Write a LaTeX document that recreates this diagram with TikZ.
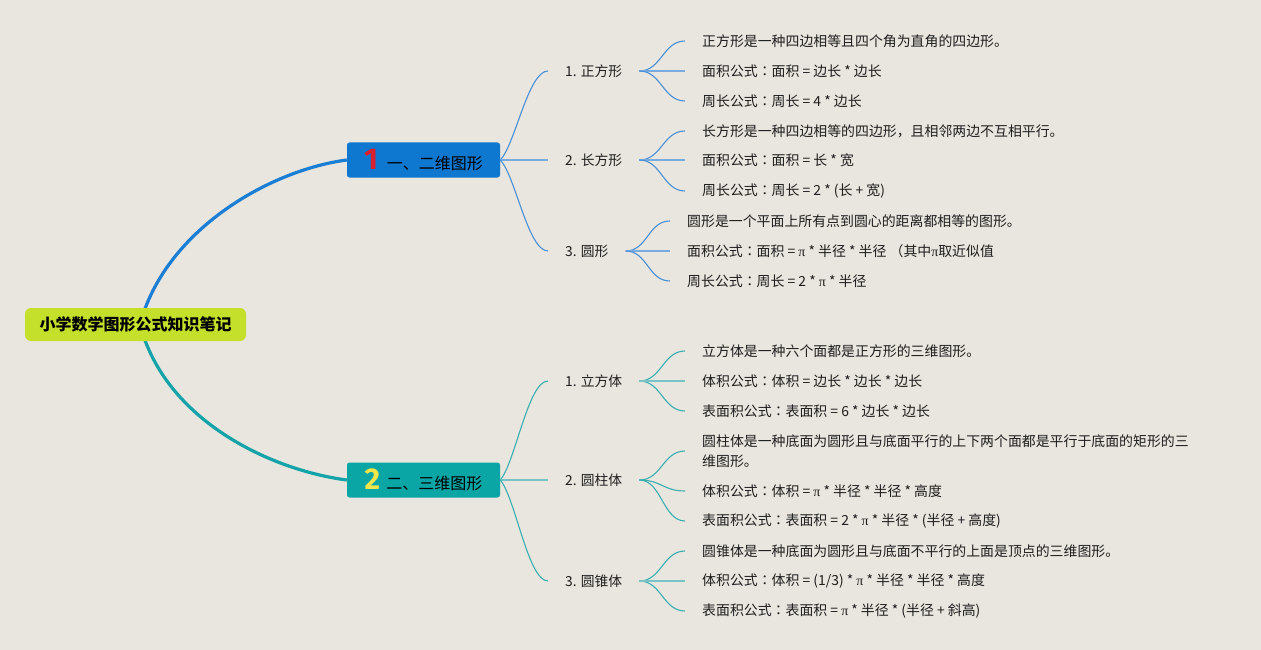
\documentclass[tikz,border=0pt]{standalone}
\usepackage{fontspec}
\setmainfont{Noto Sans CJK SC}
\newfontfamily\pif{Liberation Serif}
\newfontfamily\numfont{Fira Sans}
\newfontfamily\tcfont{Noto Sans CJK TC}
\usetikzlibrary{backgrounds}
\pgfdeclarelayer{paper}
\pgfsetlayers{paper,background,main}
\definecolor{bg}{HTML}{E8E6DF}
\definecolor{rootc}{HTML}{C4E02A}
\definecolor{bonec}{HTML}{0E78D0}
\definecolor{btwoc}{HTML}{0AA5A5}
\definecolor{curveone}{HTML}{1A7ED4}
\definecolor{curvetwo}{HTML}{14A3A8}
\definecolor{thinone}{HTML}{4A8FD6}
\definecolor{midone}{HTML}{78ACDF}
\definecolor{thintwo}{HTML}{3AAFB0}
\definecolor{midtwo}{HTML}{78C4C4}
\definecolor{numred}{HTML}{D8202E}
\definecolor{numyel}{HTML}{F2E64A}
\definecolor{txt}{HTML}{1E1E1E}
\newcommand{\pisym}{{\pif π}}
\newcommand{\fcolon}{{\tcfont ：}}
\tikzset{
  rootbox/.style={fill=rootc, rounded corners=6pt, minimum width=221pt, minimum height=33pt, inner sep=0pt, font=\fontsize{16}{16}\selectfont\bfseries, text=black},
  branchbox/.style={rounded corners=2.5pt, minimum width=153pt, minimum height=35pt, inner sep=0pt, font=\fontsize{16}{16}\selectfont, text=black},
  subnode/.style={anchor=west, inner xsep=17pt, inner ysep=2pt, font=\fontsize{13.8}{13.8}\selectfont, text=txt},
  leaf/.style={anchor=west, inner xsep=17pt, inner ysep=2pt, font=\fontsize{13.9}{20.5}\selectfont, text=txt, align=left},
  maincurve/.style={line width=3.2pt},
  thinc/.style={line width=1.1pt},
  midc/.style={line width=2pt},
}
\begin{document}
\begin{tikzpicture}[x=1pt,y=-1pt]
\begin{pgfonlayer}{paper}
\fill[bg] (0,0) rectangle (1261,650);
\end{pgfonlayer}
\useasboundingbox (0,0) rectangle (1261,650);

% root and branches
\node[rootbox] (root) at (135.5,324.5) {小学数学图形公式知识笔记};
\node[branchbox, fill=bonec] (b1) at (423.5,160) {{\numfont\bfseries\fontsize{30}{30}\selectfont\color{numred}1}\hspace{9pt}一、二维图形};
\node[branchbox, fill=btwoc] (b2) at (423.5,480) {{\numfont\bfseries\fontsize{30}{30}\selectfont\color{numyel}2}\hspace{6pt}二、三维图形};

% branch 1 subs
\node[subnode] (s11) at (548,71) {1. 正方形};
\node[subnode] (s12) at (548,160) {2. 长方形};
\node[subnode] (s13) at (548,251) {3. 圆形};
% branch 2 subs
\node[subnode] (s21) at (548,381) {1. 立方体};
\node[subnode] (s22) at (548,480) {2. 圆柱体};
\node[subnode] (s23) at (548,581) {3. 圆锥体};

% leaves 1.1
\node[leaf] (l111) at (685,41) {正方形是一种四边相等且四个角为直角的四边形。};
\node[leaf] (l112) at (685,71) {面积公式\fcolon 面积 = 边长 * 边长};
\node[leaf] (l113) at (685,101) {周长公式\fcolon 周长 = 4 * 边长};
% leaves 1.2
\node[leaf] (l121) at (685,131) {长方形是一种四边相等的四边形，且相邻两边不互相平行。};
\node[leaf] (l122) at (685,160) {面积公式\fcolon 面积 = 长 * 宽};
\node[leaf] (l123) at (685,191) {周长公式\fcolon 周长 = 2 * (长 + 宽)};
% leaves 1.3
\node[leaf] (l131) at (670,221) {圆形是一个平面上所有点到圆心的距离都相等的图形。};
\node[leaf] (l132) at (670,251) {面积公式\fcolon 面积 = \pisym{} * 半径 * 半径 （其中\pisym{}取近似值};
\node[leaf] (l133) at (670,281) {周长公式\fcolon 周长 = 2 * \pisym{} * 半径};
% leaves 2.1
\node[leaf] (l211) at (685,351) {立方体是一种六个面都是正方形的三维图形。};
\node[leaf] (l212) at (685,381) {体积公式\fcolon 体积 = 边长 * 边长 * 边长};
\node[leaf] (l213) at (685,411) {表面积公式\fcolon 表面积 = 6 * 边长 * 边长};
% leaves 2.2
\node[leaf] (l221) at (685,451) {圆柱体是一种底面为圆形且与底面平行的上下两个面都是平行于底面的矩形的三\\维图形。};
\node[leaf] (l222) at (685,491) {体积公式\fcolon 体积 = \pisym{} * 半径 * 半径 * 高度};
\node[leaf] (l223) at (685,521) {表面积公式\fcolon 表面积 = 2 * \pisym{} * 半径 * (半径 + 高度)};
% leaves 2.3
\node[leaf] (l231) at (685,551) {圆锥体是一种底面为圆形且与底面不平行的上面是顶点的三维图形。};
\node[leaf] (l232) at (685,581) {体积公式\fcolon 体积 = (1/3) * \pisym{} * 半径 * 半径 * 高度};
\node[leaf] (l233) at (685,611) {表面积公式\fcolon 表面积 = \pisym{} * 半径 * (半径 + 斜高)};

\begin{pgfonlayer}{background}
% main curves
\draw[maincurve, curveone] ([xshift=4.5pt]root.center) .. controls (165,230) and (270,170) .. (b1.west);
\draw[maincurve, curvetwo] ([xshift=4.5pt]root.center) .. controls (165,420) and (270,470) .. (b2.west);

% branch 1 -> subs
\draw[thinc, thinone] (b1.east) .. controls +(15,-15) and +(-20,0) .. (s11.west);
\draw[midc, midone] (b1.east) -- (s12.west);
\draw[thinc, thinone] (b1.east) .. controls +(15,15) and +(-20,0) .. (s13.west);
% branch 2 -> subs
\draw[thinc, thintwo] (b2.east) .. controls +(15,-17) and +(-20,0) .. (s21.west);
\draw[midc, midtwo] (b2.east) -- (s22.west);
\draw[thinc, thintwo] (b2.east) .. controls +(15,17) and +(-20,0) .. (s23.west);

% sub -> leaves (branch 1)
\foreach \s/\a/\b/\c in {s11/l111/l112/l113, s12/l121/l122/l123, s13/l131/l132/l133}{
  \draw[thinc, thinone] (\s.east) .. controls +(22,0) and +(-22,0) .. (\a.west);
  \draw[midc, midone] (\s.east) -- (\b.west);
  \draw[thinc, thinone] (\s.east) .. controls +(22,0) and +(-22,0) .. (\c.west);
}
% sub -> leaves (branch 2)
\foreach \s/\a/\c in {s21/l211/l213, s22/l221/l223, s23/l231/l233}{
  \draw[thinc, thintwo] (\s.east) .. controls +(22,0) and +(-22,0) .. (\a.west);
  \draw[thinc, thintwo] (\s.east) .. controls +(22,0) and +(-22,0) .. (\c.west);
}
\draw[midc, midtwo] (s21.east) -- (l212.west);
\draw[thinc, thintwo] (s22.east) .. controls +(22,0) and +(-22,0) .. (l222.west);
\draw[midc, midtwo] (s23.east) -- (l232.west);
\end{pgfonlayer}
\end{tikzpicture}
\end{document}
